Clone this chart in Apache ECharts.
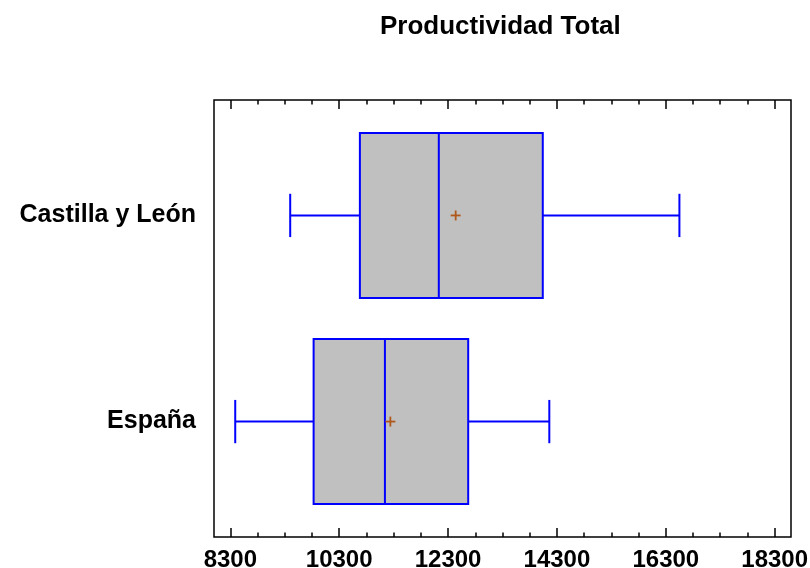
<!DOCTYPE html>
<html>
<head>
<meta charset="utf-8">
<title>Productividad Total</title>
<script src="https://cdn.jsdelivr.net/npm/echarts@6/dist/echarts.min.js"></script>
<style>
  html, body { margin: 0; padding: 0; background: #fff; }
  #chart { width: 810px; height: 568px; }
</style>
</head>
<body>
<div id="chart"></div>
<script>
// categories (0 = bottom, 1 = top)
const categories = ["España", "Castilla y León"];
const mins    = [8390, 9400];
const q1s     = [9830, 10680];
const medians = [11140, 12130];
const q3s     = [12670, 14040];
const maxs    = [14160, 16550];
const means   = [11240, 12440];

const majorTicks = [8300, 10300, 12300, 14300, 16300, 18300];
const minorTicks = [8800, 9300, 9800, 10800, 11300, 11800, 12800, 13300, 13800,
                    14800, 15300, 15800, 16800, 17300, 17800];

const FONT = "'Liberation Sans', Arial, sans-serif";
const BLUE = "#0000ff";

const chart = echarts.init(document.getElementById("chart"));

const boxData = categories.map((c, i) => [i, mins[i], q1s[i], medians[i], q3s[i], maxs[i]]);
const meanData = categories.map((c, i) => [means[i], i]);

function renderBox(params, api) {
  const y = api.value(0);
  const pMin = api.coord([api.value(1), y]);
  const pQ1 = api.coord([api.value(2), y]);
  const pMed = api.coord([api.value(3), y]);
  const pQ3 = api.coord([api.value(4), y]);
  const pMax = api.coord([api.value(5), y]);
  const half = api.size([0, 0.4])[1];
  const cap = api.size([0, 0.105])[1];
  const line = { stroke: BLUE, lineWidth: 2 };
  return {
    type: "group",
    children: [
      { type: "line", shape: { x1: pMin[0], y1: pMin[1], x2: pQ1[0], y2: pQ1[1] }, style: line },
      { type: "line", shape: { x1: pQ3[0], y1: pQ3[1], x2: pMax[0], y2: pMax[1] }, style: line },
      { type: "line", shape: { x1: pMin[0], y1: pMin[1] - cap, x2: pMin[0], y2: pMin[1] + cap }, style: line },
      { type: "line", shape: { x1: pMax[0], y1: pMax[1] - cap, x2: pMax[0], y2: pMax[1] + cap }, style: line },
      {
        type: "rect",
        shape: { x: pQ1[0], y: pQ1[1] - half, width: pQ3[0] - pQ1[0], height: half * 2 },
        style: { fill: "#c0c0c0", stroke: BLUE, lineWidth: 2 }
      },
      { type: "line", shape: { x1: pMed[0], y1: pMed[1] - half, x2: pMed[0], y2: pMed[1] + half }, style: line }
    ]
  };
}

function renderMean(params, api) {
  const p = api.coord([api.value(0), api.value(1)]);
  const s = { stroke: "#b0581c", lineWidth: 1.8 };
  return {
    type: "group",
    children: [
      { type: "line", shape: { x1: p[0] - 5, y1: p[1], x2: p[0] + 5, y2: p[1] }, style: s },
      { type: "line", shape: { x1: p[0], y1: p[1] - 5, x2: p[0], y2: p[1] + 5 }, style: s }
    ]
  };
}

function tickAxis(position, values, len, showLabel) {
  return {
    type: "value",
    position: position,
    min: 8000,
    max: 18600,
    axisLine: { show: false, onZero: false },
    splitLine: { show: false },
    axisTick: {
      show: true,
      inside: true,
      length: len,
      customValues: values,
      lineStyle: { color: "#000", width: 1.5 }
    },
    axisLabel: showLabel ? {
      show: true,
      customValues: values,
      formatter: (v) => String(v),
      margin: 11,
      fontFamily: FONT,
      fontWeight: "bold",
      fontSize: 24,
      color: "#000"
    } : { show: false }
  };
}

chart.setOption({
  backgroundColor: "#fff",
  animation: false,
  title: {
    text: "Productividad Total",
    left: 375,
    top: 9,
    textStyle: { fontFamily: FONT, fontWeight: "bold", fontSize: 26, color: "#000" }
  },
  grid: {
    left: 214,
    right: 19,
    top: 100,
    bottom: 31,
    outerBoundsMode: "none",
    show: true,
    borderColor: "#000",
    borderWidth: 1.5,
    backgroundColor: "transparent"
  },
  xAxis: [
    tickAxis("bottom", majorTicks, 9, true),
    tickAxis("bottom", minorTicks, 4.5, false),
    tickAxis("top", majorTicks, 9, false),
    tickAxis("top", minorTicks, 4.5, false)
  ],
  yAxis: {
    type: "value",
    min: -0.56,
    max: 1.56,
    axisLine: { show: false, onZero: false },
    axisTick: { show: false },
    splitLine: { show: false },
    axisLabel: {
      customValues: [0, 1],
      formatter: (v) => categories[Math.round(v)],
      margin: 18,
      fontFamily: FONT,
      fontWeight: "bold",
      fontSize: 25,
      color: "#000"
    }
  },
  series: [
    {
      type: "custom",
      renderItem: renderBox,
      encode: { x: [1, 2, 3, 4, 5], y: 0 },
      data: boxData
    },
    {
      type: "custom",
      renderItem: renderMean,
      encode: { x: 0, y: 1 },
      data: meanData
    }
  ]
});
</script>
</body>
</html>
